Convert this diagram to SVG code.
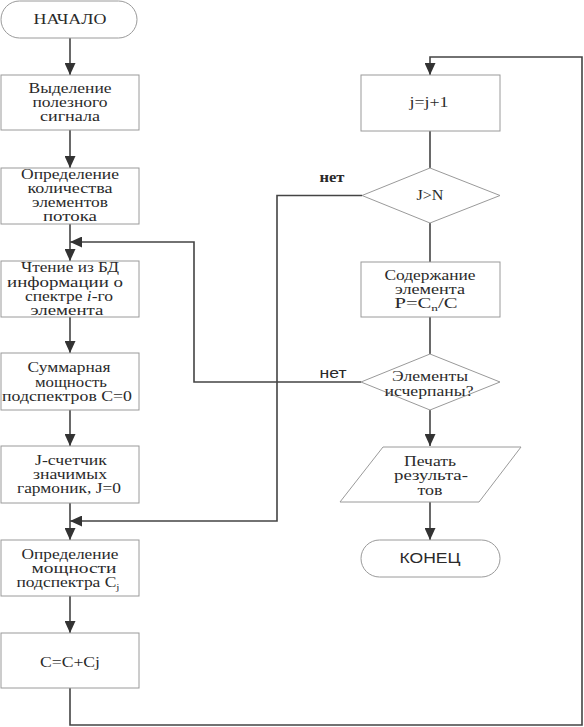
<svg xmlns="http://www.w3.org/2000/svg" width="584" height="727" viewBox="0 0 584 727">
<style>
.n{fill:#fff;stroke:#9a9a9a;stroke-width:1}
.t{font-family:"Liberation Serif","DejaVu Serif","Times New Roman",serif;font-size:14px;fill:#2a2a2a;text-anchor:middle}
.s{font-family:"Liberation Sans","DejaVu Sans",Arial,sans-serif;font-size:14px;fill:#2a2a2a;text-anchor:middle}
.c{fill:none;stroke:#444;stroke-width:1.6}
</style>
<defs>
<marker id="ah" markerUnits="userSpaceOnUse" markerWidth="12" markerHeight="11" refX="12" refY="5.5" orient="auto">
<path d="M0,0 L12,5.5 L0,11 z" fill="#333"/>
</marker>
</defs>
<rect width="584" height="727" fill="#fff"/>
<g id="connectors">
<path class="c" d="M70,38 V75" marker-end="url(#ah)"/>
<path class="c" d="M70,130 V168" marker-end="url(#ah)"/>
<path class="c" d="M70,224 V261" marker-end="url(#ah)"/>
<path class="c" d="M70,317 V353" marker-end="url(#ah)"/>
<path class="c" d="M70,410 V446" marker-end="url(#ah)"/>
<path class="c" d="M70,503 V540" marker-end="url(#ah)"/>
<path class="c" d="M70,596 V633" marker-end="url(#ah)"/>
<path class="c" d="M70,688 V725 H582 V57 H430 V75" marker-end="url(#ah)"/>
<path class="c" d="M430,131 V168"/>
<path class="c" d="M430,223 V262"/>
<path class="c" d="M362,195.5 H277 V521 H70" marker-end="url(#ah)"/>
<path class="c" d="M430,317 V354"/>
<path class="c" d="M361,382 H194 V242 H70" marker-end="url(#ah)"/>
<path class="c" d="M430,410 V446" marker-end="url(#ah)"/>
<path class="c" d="M430,502 V540" marker-end="url(#ah)"/>
<text class="t" x="332" y="182" font-weight="bold" font-size="12" textLength="25" lengthAdjust="spacingAndGlyphs">нет</text>
<text class="s" x="333" y="378" font-size="13" textLength="27" lengthAdjust="spacingAndGlyphs">нет</text>
</g>
<g id="start">
<rect class="n" x="1" y="1" width="136" height="37" rx="18.5"/>
<text class="t" x="70" y="24" textLength="73" lengthAdjust="spacingAndGlyphs">НАЧАЛО</text>
</g>
<g id="b1">
<rect class="n" x="1" y="75" width="138" height="55"/>
<text class="t" x="70" y="93" textLength="83" lengthAdjust="spacingAndGlyphs">Выделение</text>
<text class="t" x="70" y="107" textLength="75" lengthAdjust="spacingAndGlyphs">полезного</text>
<text class="t" x="70" y="121" textLength="60" lengthAdjust="spacingAndGlyphs">сигнала</text>
</g>
<g id="b2">
<rect class="n" x="1" y="168" width="138" height="56"/>
<text class="t" x="70" y="179" textLength="98" lengthAdjust="spacingAndGlyphs">Определение</text>
<text class="t" x="70" y="193" textLength="85" lengthAdjust="spacingAndGlyphs">количества</text>
<text class="t" x="70" y="207" textLength="76" lengthAdjust="spacingAndGlyphs">элементов</text>
<text class="t" x="70" y="221" textLength="54" lengthAdjust="spacingAndGlyphs">потока</text>
</g>
<g id="b3">
<rect class="n" x="1" y="261" width="138" height="56"/>
<text class="t" x="70" y="272" textLength="98" lengthAdjust="spacingAndGlyphs">Чтение из БД</text>
<text class="t" x="65" y="287" textLength="116" lengthAdjust="spacingAndGlyphs">информации о</text>
<text class="t" x="69" y="301" textLength="88" lengthAdjust="spacingAndGlyphs">спектре <tspan font-style="italic">i</tspan>-го</text>
<text class="t" x="67" y="315" textLength="73" lengthAdjust="spacingAndGlyphs">элемента</text>
</g>
<g id="b4">
<rect class="n" x="1" y="353" width="138" height="57"/>
<text class="t" x="69" y="372" textLength="83" lengthAdjust="spacingAndGlyphs">Суммарная</text>
<text class="t" x="71" y="387" textLength="72" lengthAdjust="spacingAndGlyphs">мощность</text>
<text class="t" x="67" y="401" textLength="130" lengthAdjust="spacingAndGlyphs">подспектров C=0</text>
</g>
<g id="b5">
<rect class="n" x="1" y="446" width="138" height="57"/>
<text class="t" x="71" y="465" textLength="72" lengthAdjust="spacingAndGlyphs">J-счетчик</text>
<text class="t" x="70" y="479" textLength="74" lengthAdjust="spacingAndGlyphs">значимых</text>
<text class="t" x="69" y="493" textLength="104" lengthAdjust="spacingAndGlyphs">гармоник, J=0</text>
</g>
<g id="b6">
<rect class="n" x="1" y="540" width="138" height="56"/>
<text class="t" x="70" y="559" textLength="97" lengthAdjust="spacingAndGlyphs">Определение</text>
<text class="t" x="74" y="573" textLength="85" lengthAdjust="spacingAndGlyphs">мощности</text>
<text class="t" x="68" y="587" textLength="103" lengthAdjust="spacingAndGlyphs">подспектра C<tspan font-size="9" dy="3">j</tspan></text>
</g>
<g id="b7">
<rect class="n" x="1" y="633" width="138" height="55"/>
<text class="t" x="70" y="667" textLength="60" lengthAdjust="spacingAndGlyphs">C=C+Cj</text>
</g>
<g id="inc">
<rect class="n" x="361" y="75" width="139" height="56"/>
<text class="t" x="429" y="107" textLength="39" lengthAdjust="spacingAndGlyphs">j=j+1</text>
</g>
<g id="d1">
<polygon class="n" points="430,168 500,195.5 430,223 362,195.5"/>
<text class="t" x="430" y="200" textLength="27" lengthAdjust="spacingAndGlyphs">J&gt;N</text>
</g>
<g id="content">
<rect class="n" x="361" y="262" width="139" height="55"/>
<text class="t" x="430" y="280" textLength="91" lengthAdjust="spacingAndGlyphs">Содержание</text>
<text class="t" x="430" y="294" textLength="70" lengthAdjust="spacingAndGlyphs">элемента</text>
<text class="t" x="426" y="308" textLength="63" lengthAdjust="spacingAndGlyphs">P=C<tspan font-size="9" dy="3">n</tspan><tspan dy="-3">/C</tspan></text>
</g>
<g id="d2">
<polygon class="n" points="430,354 500,382 430,410 361,382"/>
<text class="t" x="430" y="381" textLength="76" lengthAdjust="spacingAndGlyphs">Элементы</text>
<text class="t" x="429" y="396" textLength="89" lengthAdjust="spacingAndGlyphs">исчерпаны?</text>
</g>
<g id="print">
<polygon class="n" points="383,447 521,447 479,502 340,502"/>
<text class="t" x="430" y="466" textLength="52" lengthAdjust="spacingAndGlyphs">Печать</text>
<text class="t" x="431" y="480" textLength="74" lengthAdjust="spacingAndGlyphs">результа-</text>
<text class="t" x="430" y="495" textLength="25" lengthAdjust="spacingAndGlyphs">тов</text>
</g>
<g id="end">
<rect class="n" x="361" y="540" width="139" height="37" rx="18.5"/>
<text class="s" x="430" y="563" textLength="61" lengthAdjust="spacingAndGlyphs">КОНЕЦ</text>
</g>
</svg>
